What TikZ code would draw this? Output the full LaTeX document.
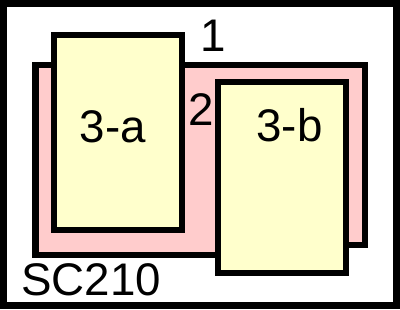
\documentclass[tikz,border=0pt]{standalone}
\usepackage{fontspec}
\setmainfont{Liberation Sans}
\definecolor{pinkfill}{HTML}{FFCCCC}
\definecolor{yellowfill}{HTML}{FFFFCC}
\begin{document}
\begin{tikzpicture}[x=0.025cm,y=-0.025cm,
  box/.style={draw=black, line width=0.15cm, fill=yellowfill, inner sep=0pt, outer sep=0pt, minimum width=3.1875cm},
  lbl/.style={inner sep=0pt, font=\fontsize{32.5}{39}\selectfont}]
\useasboundingbox (0,0) rectangle (400,309);
\fill[white] (0,0) rectangle (400,309);
\draw[line width=0.175cm] (3.5,3.5) rectangle (396.5,305.5);
% pink region
\draw[line width=0.15cm, fill=pinkfill, line join=miter]
  (35.5,64.5) -- (364.5,64.5) -- (364.5,245) -- (300,245) -- (300,254.5) -- (35.5,254.5) -- cycle;
\node[box, minimum height=4.85cm] (a) at (118.25,132.5) {};
\node[box, minimum height=4.775cm] (b) at (281.75,177.5) {};
\node[lbl] (ta) at (113,127) {3-a};
\node[lbl] (tb) at (289.5,125) {3-b};
\node[lbl] (one) at (213,36) {1};
\node[lbl] (two) at (201,110) {2};
\node[lbl, anchor=west] (sc) at (21,280) {SC210};
\end{tikzpicture}
\end{document}
